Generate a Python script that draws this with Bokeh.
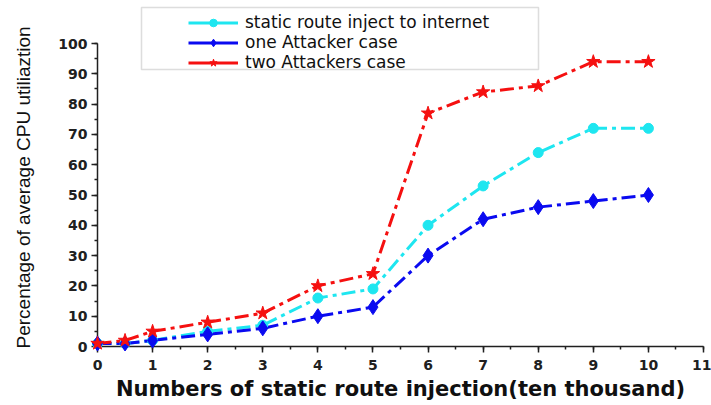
from bokeh.plotting import figure
from bokeh.models import FixedTicker, Legend, LegendItem, BoxAnnotation, Range1d, Title
from bokeh.embed import file_html
from bokeh.resources import INLINE

# ---- data ----
x_vals = [0, 0.5, 1, 2, 3, 4, 5, 6, 7, 8, 9, 10]
static_route = [1, 1, 2, 5, 7, 16, 19, 40, 53, 64, 72, 72]
one_attacker = [1, 1, 2, 4, 6, 10, 13, 30, 42, 46, 48, 50]
two_attackers = [1, 2, 5, 8, 11, 20, 24, 77, 84, 86, 94, 94]

series_labels = ["static route inject to internet", "one Attacker case", "two Attackers case"]

x_major = [0, 1, 2, 3, 4, 5, 6, 7, 8, 9, 10, 11]
x_minor = [0, 0.5, 1, 1.5, 2, 2.5, 3, 3.5, 4, 4.5, 5, 5.5, 6, 6.5, 7, 7.5,
           8, 8.5, 9, 9.5, 10, 10.5, 11]
y_major = [0, 10, 20, 30, 40, 50, 60, 70, 80, 90, 100]
y_minor = [0, 5, 10, 15, 20, 25, 30, 35, 40, 45, 50, 55, 60, 65, 70, 75,
           80, 85, 90, 95, 100]

x_title = "Numbers of static route injection(ten thousand)"
y_title = "Percentage of average CPU utiliaztion"

CYAN = "#1EE6F0"
BLUE = "#0A0AF0"
RED = "#F51010"
DASH = "14 5 4 5"

p = figure(width=711, height=405, output_backend="svg", toolbar_location=None,
           x_range=Range1d(0, 11), y_range=Range1d(0, 114.2),
           min_border_left=97, min_border_right=8, min_border_top=0,
           min_border_bottom=59)
p.outline_line_color = None
p.xgrid.visible = False
p.ygrid.visible = False
p.background_fill_color = "white"
p.border_fill_color = "white"

def add_series(y, color, marker, size):
    lr = p.line(x_vals, y, line_color=color, line_width=3, line_dash=DASH)
    sr = p.scatter(x_vals, y, marker=marker, size=size, fill_color=color,
                   line_color=color, level="annotation")
    return lr, sr

c_l, c_s = add_series(static_route, CYAN, "circle", 10)
b_l, b_s = add_series(one_attacker, BLUE, "diamond", 15)
r_l, r_s = add_series(two_attackers, RED, "star", 14)

# hidden solid-line proxies used only for the legend samples
def legend_proxy(y, color, marker, size):
    lr = p.line(x_vals, y, line_color=color, line_width=3, visible=False)
    sr = p.scatter(x_vals, y, marker=marker, size=size, fill_color=color,
                   line_color=color, visible=False)
    return [lr, sr]

c_leg = legend_proxy(static_route, CYAN, "circle", 10)
b_leg = legend_proxy(one_attacker, BLUE, "diamond", 13)
r_leg = legend_proxy(two_attackers, RED, "star", 12)

# axes
for ax, maj, mnr in ((p.xaxis[0], x_major, x_minor), (p.yaxis[0], y_major, y_minor)):
    ax.ticker = FixedTicker(ticks=maj, minor_ticks=mnr)
    ax.axis_line_width = 1.5
    ax.axis_line_color = "#202020"
    ax.major_tick_line_color = "#202020"
    ax.minor_tick_line_color = "#202020"
    ax.major_tick_line_width = 1.5
    ax.minor_tick_line_width = 1.5
    ax.major_tick_in = 0
    ax.major_tick_out = 6
    ax.minor_tick_in = 0
    ax.minor_tick_out = 3
    ax.major_label_text_font = "DejaVu Sans"
    ax.major_label_text_font_style = "bold"
    ax.major_label_text_font_size = "14px"
    ax.major_label_text_color = "#202020"

p.yaxis.bounds = (0, 100)

p.xaxis.axis_label = x_title
p.xaxis.axis_label_text_font = "DejaVu Sans"
p.xaxis.axis_label_text_font_style = "bold"
p.xaxis.axis_label_text_font_size = "21px"
p.xaxis.axis_label_text_color = "#101010"
p.xaxis.axis_label_standoff = 4
p.xaxis.major_label_standoff = 7

p.yaxis.major_label_standoff = 4

# blank spacer between the y tick labels and the y title
spacer = Title(text=" ", align="left", standoff=0,
               text_font="'Liberation Sans'", text_font_size="18px")
p.add_layout(spacer, "left")

ytitle = Title(text=y_title, align="left", offset=-2, standoff=0,
               text_font="'Liberation Sans Narrow', 'Liberation Sans', sans-serif",
               text_font_style="normal", text_font_size="19px",
               text_color="#101010")
p.add_layout(ytitle, "left")

legend = Legend(items=[
    LegendItem(label=series_labels[0], renderers=c_leg),
    LegendItem(label=series_labels[1], renderers=b_leg),
    LegendItem(label=series_labels[2], renderers=r_leg),
], location=(85, 268), padding=6, spacing=0, margin=0,
    glyph_width=50, glyph_height=19, label_height=19, label_standoff=7,
    label_text_font="DejaVu Sans", label_text_font_size="17px",
    label_text_color="#101010", inactive_fill_alpha=0,
    border_line_alpha=0, background_fill_alpha=0)
p.add_layout(legend)

box = BoxAnnotation(left=44, right=441, top=339, bottom=277,
                    left_units="screen", right_units="screen",
                    top_units="screen", bottom_units="screen",
                    fill_alpha=0, line_color="#909090", line_width=1.5,
                    level="underlay")
p.add_layout(box)

open("out.html", "w").write(file_html(p, INLINE))
